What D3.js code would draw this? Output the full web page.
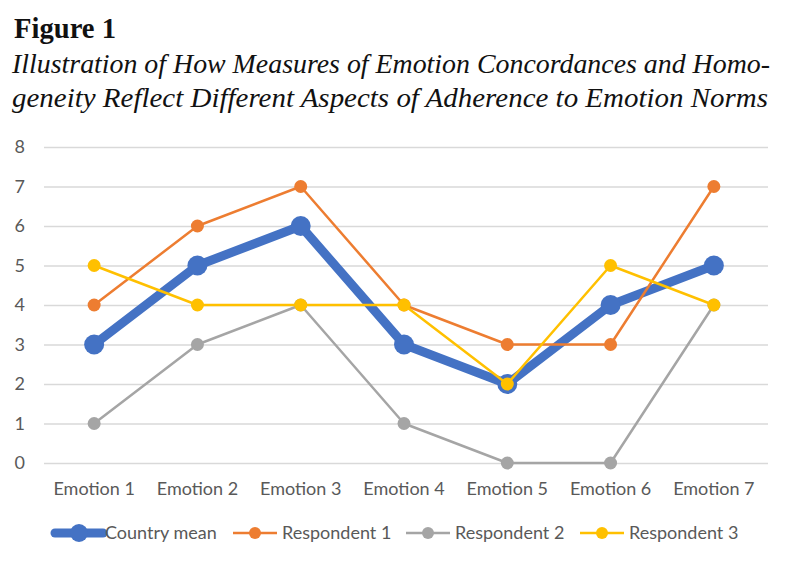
<!DOCTYPE html>
<html><head><meta charset="utf-8">
<script src="https://cdn.jsdelivr.net/npm/d3@7"></script>
<style>body{margin:0;background:#fff}svg{display:block}</style>
</head><body>
<svg id="c" width="789" height="570"></svg>
<script>
const categories = ["Emotion 1","Emotion 2","Emotion 3","Emotion 4","Emotion 5","Emotion 6","Emotion 7"];
const seriesNames = ["Country mean","Respondent 1","Respondent 2","Respondent 3"];
const countryMean = [3,5,6,3,2,4,5];
const respondent1 = [4,6,7,4,3,3,7];
const respondent2 = [1,3,4,1,0,0,4];
const respondent3 = [5,4,4,4,2,5,4];
const yTicks = [0,1,2,3,4,5,6,7,8];

const series = [
  {name: seriesNames[0], values: countryMean, color:"#4472C4", w:9, r:10},
  {name: seriesNames[1], values: respondent1, color:"#ED7D31", w:2.5, r:6.5},
  {name: seriesNames[2], values: respondent2, color:"#A5A5A5", w:2.5, r:6.5},
  {name: seriesNames[3], values: respondent3, color:"#FFC000", w:2.5, r:6.5}
];

const svg = d3.select("#c");
svg.append("text").attr("x",14).attr("y",38).attr("font-family","Liberation Serif, Times New Roman, serif")
  .attr("font-weight","bold").attr("font-size",29).attr("textLength",102).attr("lengthAdjust","spacingAndGlyphs")
  .attr("fill","#111").text("Figure 1");
svg.append("text").attr("x",12).attr("y",73).attr("font-family","Liberation Serif, Times New Roman, serif")
  .attr("font-style","italic").attr("font-size",27).attr("textLength",758).attr("lengthAdjust","spacingAndGlyphs")
  .attr("fill","#111").text("Illustration of How Measures of Emotion Concordances and Homo-");
svg.append("text").attr("x",12).attr("y",107).attr("font-family","Liberation Serif, Times New Roman, serif")
  .attr("font-style","italic").attr("font-size",27).attr("textLength",756).attr("lengthAdjust","spacingAndGlyphs")
  .attr("fill","#111").text("geneity Reflect Different Aspects of Adherence to Emotion Norms");

const x = d3.scaleBand().domain(categories).range([42.5,765.5]);
const y = d3.scaleLinear().domain([0,8]).range([463,147]);
const font = "Lato, Open Sans, sans-serif";

const yAxis = svg.append("g").attr("transform","translate(44,0)")
  .call(d3.axisLeft(y).tickValues(yTicks).tickSize(-724).tickPadding(19).tickFormat(d3.format("d")));
yAxis.select(".domain").remove();
yAxis.selectAll("line").attr("stroke","#D9D9D9").attr("stroke-width",1.3);
yAxis.selectAll("text").attr("font-family",font).attr("font-size",18).attr("fill","#595959");

const xAxis = svg.append("g").attr("transform","translate(0,463)")
  .call(d3.axisBottom(x).tickSize(0).tickPadding(19));
xAxis.select(".domain").remove();
xAxis.selectAll("text").attr("font-family",font).attr("font-size",18).attr("fill","#595959");

const line = d3.line().x((d,i)=>x(categories[i])+x.bandwidth()/2).y(d=>y(d));
series.forEach(s=>{
  const g = svg.append("g");
  g.append("path").attr("d",line(s.values)).attr("fill","none").attr("stroke",s.color)
    .attr("stroke-width",s.w).attr("stroke-linejoin","round").attr("stroke-linecap","round");
  g.selectAll("circle").data(s.values).join("circle")
    .attr("cx",(d,i)=>x(categories[i])+x.bandwidth()/2).attr("cy",d=>y(d)).attr("r",s.r).attr("fill",s.color);
});

const legendX = [55,233,406,580];
const lg = svg.append("g");
series.forEach((s,i)=>{
  const g = lg.append("g").attr("transform",`translate(${legendX[i]},533)`);
  g.append("line").attr("x1",0).attr("x2",i===0?48:44).attr("stroke",s.color).attr("stroke-width",s.w).attr("stroke-linecap",i===0?"round":"butt");
  g.append("circle").attr("cx",i===0?24:22).attr("r",i===0?9:6).attr("fill",s.color);
  g.append("text").attr("x",i===0?50:49).attr("y",6).attr("font-family",font).attr("font-size",18).attr("fill","#595959").text(s.name);
});
</script>
</body></html>
